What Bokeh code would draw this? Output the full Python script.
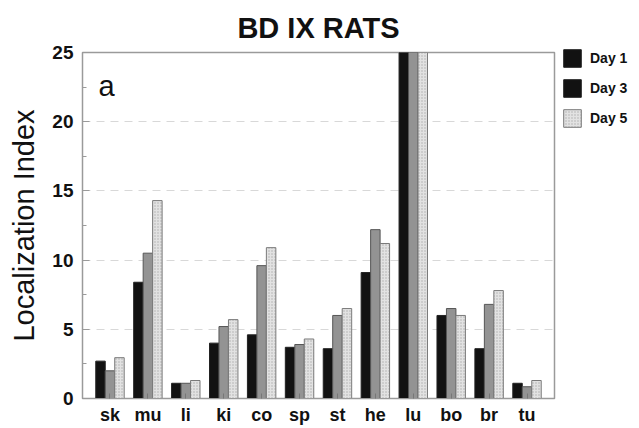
from bokeh.plotting import figure
from bokeh.models import ColumnDataSource, FactorRange, Range1d, Legend, LegendItem, Label, FixedTicker, Title
from bokeh.transform import dodge
from bokeh.embed import file_html
from bokeh.resources import INLINE

organs = ["sk", "mu", "li", "ki", "co", "sp", "st", "he", "lu", "bo", "br", "tu"]
day1 = [2.7, 8.4, 1.1, 4.0, 4.6, 3.7, 3.6, 9.1, 25.0, 6.0, 3.6, 1.1]
day3 = [2.0, 10.5, 1.1, 5.2, 9.6, 3.9, 6.0, 12.2, 25.0, 6.5, 6.8, 0.85]
day5 = [2.95, 14.3, 1.3, 5.7, 10.9, 4.3, 6.5, 11.2, 25.0, 6.0, 7.8, 1.3]
y_ticks = [0, 5, 10, 15, 20, 25]
series_labels = ["Day 1", "Day 3", "Day 5"]

FONT = "Liberation Sans"

src = ColumnDataSource(dict(organ=organs, day1=day1, day3=day3, day5=day5))

p = figure(
    frame_width=472, frame_height=346,
    x_range=FactorRange(*organs, range_padding=0.0375),
    y_range=Range1d(0, 25),
    output_backend="svg", toolbar_location=None,
    min_border_left=82, min_border_right=80, min_border_top=51, min_border_bottom=28,
)
p.add_layout(Title(text="BD IX RATS", align="center", text_font=FONT,
                   text_font_size="29px", text_font_style="bold",
                   text_color="#111111", standoff=18), "above")

r1 = p.vbar(x=dodge("organ", -0.25, range=p.x_range), top="day1", width=0.25, source=src,
            fill_color="#121212", line_color="#222222", line_width=1)
r3 = p.vbar(x=dodge("organ", 0.0, range=p.x_range), top="day3", width=0.25, source=src,
            fill_color="#939393", line_color="#555555", line_width=1)
r5 = p.vbar(x=dodge("organ", 0.25, range=p.x_range), top="day5", width=0.25, source=src,
            fill_color="#e2e2e2", line_color="#7a7a7a", line_width=1,
            hatch_pattern="dot", hatch_color="#888888", hatch_scale=3, hatch_alpha=0.6)

# hidden legend proxy for Day 3 (printed black in the original legend)
r3_leg = p.vbar(x=dodge("organ", 0.0, range=p.x_range), top="day3", width=0.25, source=src,
                fill_color="#121212", line_color="#222222", visible=False)

legend = Legend(items=[LegendItem(label=series_labels[0], renderers=[r1]),
                       LegendItem(label=series_labels[1], renderers=[r3_leg]),
                       LegendItem(label=series_labels[2], renderers=[r5])],
                location=(7, 269), orientation="vertical",
                glyph_width=22, glyph_height=22, spacing=8, label_standoff=7,
                padding=0, margin=0, border_line_color=None, background_fill_alpha=0,
                label_text_font=FONT, label_text_font_size="14px",
                label_text_font_style="bold", label_text_color="#111111")
p.add_layout(legend, "right")

p.add_layout(Label(x=16, y=297, x_units="screen", y_units="screen", text="a",
                   text_font=FONT, text_font_size="29px", text_color="#111111"))

p.outline_line_color = "#9a9a9a"
p.outline_line_width = 1.5
p.background_fill_color = "white"
p.xgrid.grid_line_color = None
p.ygrid.grid_line_color = "#c8c8c8"
p.ygrid.grid_line_dash = "8 6"
p.ygrid.grid_line_alpha = 0.7
p.ygrid.ticker = FixedTicker(ticks=y_ticks)

p.yaxis.ticker = FixedTicker(ticks=y_ticks, minor_ticks=[2.5, 7.5, 12.5, 17.5, 22.5])
p.yaxis.axis_label = "Localization Index"
p.yaxis.axis_label_text_font = FONT
p.yaxis.axis_label_text_font_size = "29px"
p.yaxis.axis_label_text_font_style = "normal"
p.yaxis.axis_label_text_color = "#111111"
p.yaxis.axis_label_standoff = 9
p.yaxis.major_label_text_font = FONT
p.yaxis.major_label_text_font_size = "19px"
p.yaxis.major_label_text_font_style = "bold"
p.yaxis.major_label_text_color = "#111111"
p.yaxis.major_label_standoff = 9
p.yaxis.axis_line_color = "#9a9a9a"
p.yaxis.major_tick_line_color = "#9a9a9a"
p.yaxis.minor_tick_line_color = "#9a9a9a"
p.yaxis.major_tick_in = 7
p.yaxis.major_tick_out = 0
p.yaxis.minor_tick_in = 4
p.yaxis.minor_tick_out = 0

p.xaxis.major_label_text_font = FONT
p.xaxis.major_label_text_font_size = "18px"
p.xaxis.major_label_text_font_style = "bold"
p.xaxis.major_label_text_color = "#111111"
p.xaxis.major_label_standoff = 6
p.xaxis.axis_line_color = "#9a9a9a"
p.xaxis.major_tick_line_color = "#777777"
p.xaxis.major_tick_in = 5
p.xaxis.major_tick_out = 0
p.xaxis.minor_tick_line_color = None

open("out.html", "w").write(file_html(p, INLINE))
